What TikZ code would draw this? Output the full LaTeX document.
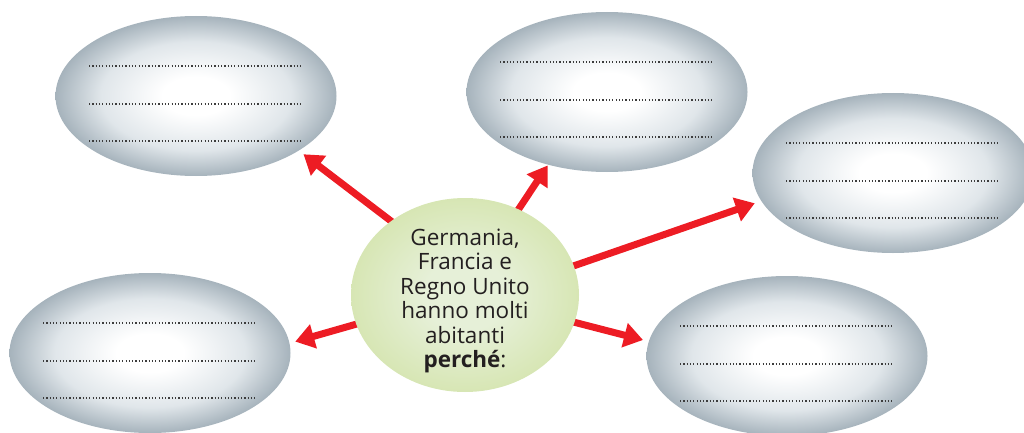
\documentclass[tikz,border=0pt]{standalone}
\usepackage{fontspec}
\setmainfont{Open Sans}
\usetikzlibrary{arrows.meta,backgrounds,shapes.geometric}
\definecolor{bubedge}{RGB}{166,179,188}
\definecolor{bubmid}{RGB}{224,230,234}
\definecolor{hubin}{RGB}{230,240,216}
\definecolor{hubedge}{RGB}{215,230,180}
\definecolor{arrred}{RGB}{237,28,36}
\definecolor{txt}{RGB}{35,31,32}
\definecolor{dotgray}{RGB}{60,60,60}
\pgfdeclareradialshading{bubble}{\pgfpoint{0bp}{0bp}}{color(0bp)=(white); color(6bp)=(white); color(17bp)=(bubmid); color(25bp)=(bubedge); color(50bp)=(bubedge)}
\pgfdeclareradialshading{hubshade}{\pgfpoint{0bp}{0bp}}{color(0bp)=(hubin); color(9bp)=(hubin); color(25bp)=(hubedge); color(50bp)=(hubedge)}
\tikzset{
  bub/.style={ellipse,minimum width=281pt,minimum height=160pt,inner sep=0pt,outer sep=0pt,shading=bubble},
  hubst/.style={ellipse,minimum width=228pt,minimum height=194pt,inner sep=0pt,outer sep=0pt,shading=hubshade},
  dotline/.style={draw=dotgray,line width=1.2pt,dash pattern=on 1.2pt off 2.1pt},
  redarrow/.style={draw=arrred,line width=7pt,-{Triangle[length=19pt,width=24pt]},shorten <=-6pt}
}

\begin{document}
\begin{tikzpicture}[x=1pt,y=1pt]
\useasboundingbox (0,0) rectangle (1024,432);
%\node at (512,420) {};
\node[hubst] (h) at (465,137) {};
\node[align=center,text=txt,font=\fontsize{22.5}{24.5}\selectfont,yshift=-6pt] (htext) at (h) {Germania,\\Francia e\\Regno Unito\\hanno molti\\abitanti\\\textbf{perché}:};
\node[bub] (b1) at (196,336) {};
\node[bub] (b2) at (607,340) {};
\node[bub] (b3) at (893,259) {};
\node[bub] (b4) at (150,79) {};
\node[bub] (b5) at (787,76) {};
\draw[dotline] ([shift={(-107,30)}]b1.center) -- ++(214,0);
\draw[dotline] ([shift={(-107,-8)}]b1.center) -- ++(214,0);
\draw[dotline] ([shift={(-107,-45)}]b1.center) -- ++(214,0);
\draw[dotline] ([shift={(-107,30)}]b2.center) -- ++(214,0);
\draw[dotline] ([shift={(-107,-8)}]b2.center) -- ++(214,0);
\draw[dotline] ([shift={(-107,-45)}]b2.center) -- ++(214,0);
\draw[dotline] ([shift={(-107,30)}]b3.center) -- ++(214,0);
\draw[dotline] ([shift={(-107,-8)}]b3.center) -- ++(214,0);
\draw[dotline] ([shift={(-107,-45)}]b3.center) -- ++(214,0);
\draw[dotline] ([shift={(-107,30)}]b4.center) -- ++(214,0);
\draw[dotline] ([shift={(-107,-8)}]b4.center) -- ++(214,0);
\draw[dotline] ([shift={(-107,-45)}]b4.center) -- ++(214,0);
\draw[dotline] ([shift={(-107,30)}]b5.center) -- ++(214,0);
\draw[dotline] ([shift={(-107,-8)}]b5.center) -- ++(214,0);
\draw[dotline] ([shift={(-107,-45)}]b5.center) -- ++(214,0);
\begin{pgfonlayer}{background}
\draw[redarrow,shorten >=6pt] (h.135) -- (b1.-28);
\draw[redarrow,shorten >=1pt] (h.58) -- (b2.231);
\draw[redarrow,shorten >=7pt] (h.15) -- (b3.192);
\draw[redarrow,shorten >=6pt] (h.195) -- (b4.4);
\draw[redarrow,shorten >=6pt] (h.-14) -- (b5.174);
\end{pgfonlayer}
\end{tikzpicture}
\end{document}
